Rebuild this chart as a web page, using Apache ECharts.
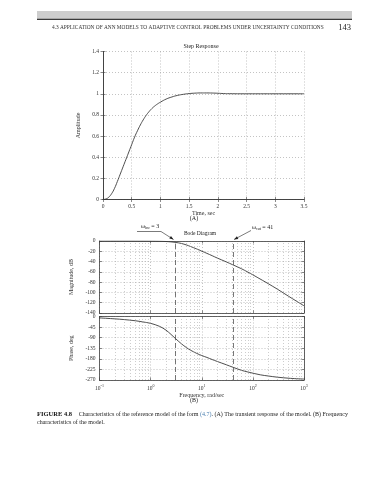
<!DOCTYPE html>
<html><head><meta charset="utf-8">
<script src="https://cdn.jsdelivr.net/npm/echarts@6/dist/echarts.min.js"></script>
<style>html,body{margin:0;padding:0;background:#fff;}#c{width:388px;height:480px;}</style>
</head><body><div id="c"></div>
<script>
// ---- data ----
const stepTime = [0,0.05,0.1,0.15,0.2,0.25,0.3,0.35,0.4,0.45,0.5,0.55,0.6,0.65,0.7,0.75,0.8,0.85,0.9,0.95,1.0,1.1,1.2,1.3,1.4,1.5,1.6,1.7,1.8,1.9,2.0,2.1,2.2,2.4,2.6,2.8,3.0,3.2,3.5];
const stepAmp  = [0,0.005,0.022,0.055,0.105,0.17,0.24,0.31,0.38,0.45,0.52,0.59,0.65,0.705,0.753,0.795,0.83,0.86,0.884,0.904,0.921,0.950,0.970,0.985,0.995,1.002,1.006,1.008,1.008,1.007,1.005,1.002,1.001,1.0,1.0,1.0,1.0,1.0,1.0];
const magFreq  = [0.1,0.2,0.5,1,1.5,2,2.5,3,3.5,4,5,6,8,10,12.6,16,20,30,41,60,80,121,200,300,500,700,1000];
const magDb    = [0,0,-0.05,-0.2,-0.5,-1.0,-1.7,-2.6,-3.6,-4.8,-7.6,-10.6,-15.5,-19.8,-24,-28.6,-33,-40.5,-46.5,-54,-60.5,-70.5,-83,-93.5,-107.5,-116.5,-126];
const phaseFreq = [0.1,0.2,0.3,0.5,0.7,1,1.5,2,2.5,3,4,5,6,8,10,12.6,16,20,30,41,60,80,140,200,300,540,1000];
const phaseDeg  = [-6,-10,-13,-18,-23,-29,-42,-58,-76,-92,-116,-132,-143,-157,-166,-174,-183,-191,-205,-216,-229,-236,-248,-253,-258,-263,-266];
const wBandwidth = 3;
const wCut = 41;
const stepXTicks = {min:0, max:3.5, interval:0.5};
const stepYTicks = {min:0, max:1.4, interval:0.2};
const magTicks = {min:-140, max:0, interval:20};
const phaseTicks = {min:-270, max:0, interval:45};
const freqRange = {min:0.1, max:1000};

// ---- styles ----
const SERIF = "'Liberation Serif','DejaVu Serif',serif";
const AX = '#3c3c3c';
const GRID = '#9a9a9a';
const lblStyle = {fontSize:5.5, fontFamily:SERIF, color:'#333', margin:4};
const dotted = {show:true, lineStyle:{type:[1,2], color:GRID, width:0.6}};

function boxAxis(extra){ // mirrored axis: only line + inside ticks
  return Object.assign({axisLabel:{show:false}, splitLine:{show:false},
    axisLine:{show:true, lineStyle:{color:AX, width:0.8}},
    axisTick:{show:true, inside:true, length:2.5, lineStyle:{color:AX, width:0.6}}}, extra);
}
function mainAxis(extra){
  return Object.assign({axisLine:{show:true, onZero:false, lineStyle:{color:AX, width:0.8}},
    axisTick:{show:true, inside:true, length:2.5, lineStyle:{color:AX, width:0.6}},
    axisLabel:Object.assign({}, lblStyle), splitLine:dotted}, extra);
}
const logLabel = {
  fontSize:5.5, fontFamily:SERIF, color:'#333', margin:4,
  formatter: v => '{b|10}{s|' + Math.round(Math.log10(v)) + '}',
  rich:{ b:{fontSize:5.5, fontFamily:SERIF, color:'#333', lineHeight:8, verticalAlign:'bottom'},
         s:{fontSize:4, fontFamily:SERIF, color:'#333', lineHeight:8, verticalAlign:'top'} }
};

// minor decade grid values (2..9 of each decade)
const minorGrid = [];
for (let d = freqRange.min; d < freqRange.max; d *= 10) for (let k = 2; k <= 9; k++) minorGrid.push(+(d*k).toPrecision(3));
function gridMarks(){
  const data = minorGrid.map(v => ({xAxis:v, lineStyle:{type:[1,2], color:GRID, width:0.5}}));
  data.push({xAxis:wBandwidth, lineStyle:{type:[5,3], color:'#555', width:0.8}});
  data.push({xAxis:wCut, lineStyle:{type:[5,3], color:'#555', width:0.8}});
  return {silent:true, symbol:['none','none'], label:{show:false}, animation:false, data};
}

const grids = [
  {left:103, top:51.5, width:201, height:148},
  {left:99.5, top:241, width:204.5, height:72},
  {left:99.5, top:316.5, width:204.5, height:63.5}
];

const chart = echarts.init(document.getElementById('c'), null, {renderer:'canvas'});
chart.setOption({
  animation:false,
  backgroundColor:'#fff',
  grid: grids,
  xAxis: [
    mainAxis(Object.assign({type:'value', gridIndex:0, position:'bottom'}, stepXTicks, {
      name:'Time, sec', nameLocation:'middle', nameGap:7,
      nameTextStyle:{fontSize:6, fontFamily:SERIF, color:'#333', verticalAlign:'top'}})),
    boxAxis(Object.assign({type:'value', gridIndex:0, position:'top'}, stepXTicks)),
    mainAxis(Object.assign({type:'log', logBase:10, gridIndex:1, position:'bottom', axisLabel:{show:false}}, freqRange)),
    boxAxis(Object.assign({type:'log', logBase:10, gridIndex:1, position:'top'}, freqRange)),
    mainAxis(Object.assign({type:'log', logBase:10, gridIndex:2, position:'bottom', axisLabel:logLabel,
      name:'Frequency, rad/sec', nameLocation:'middle', nameGap:10,
      nameTextStyle:{fontSize:6, fontFamily:SERIF, color:'#333', verticalAlign:'top'}}, freqRange)),
    boxAxis(Object.assign({type:'log', logBase:10, gridIndex:2, position:'top'}, freqRange))
  ],
  yAxis: [
    mainAxis(Object.assign({type:'value', gridIndex:0, position:'left',
      name:'Amplitude', nameLocation:'middle', nameGap:20, nameRotate:90,
      nameTextStyle:{fontSize:6, fontFamily:SERIF, color:'#333'}}, stepYTicks)),
    boxAxis(Object.assign({type:'value', gridIndex:0, position:'right'}, stepYTicks)),
    mainAxis(Object.assign({type:'value', gridIndex:1, position:'left',
      name:'Magnitude, dB', nameLocation:'middle', nameGap:17, nameRotate:90,
      nameTextStyle:{fontSize:6, fontFamily:SERIF, color:'#333'}}, magTicks)),
    boxAxis(Object.assign({type:'value', gridIndex:1, position:'right'}, magTicks)),
    mainAxis(Object.assign({type:'value', gridIndex:2, position:'left',
      name:'Phase, deg', nameLocation:'middle', nameGap:18, nameRotate:90,
      nameTextStyle:{fontSize:6, fontFamily:SERIF, color:'#333'}}, phaseTicks)),
    boxAxis(Object.assign({type:'value', gridIndex:2, position:'right'}, phaseTicks))
  ],
  series: [
    {type:'line', xAxisIndex:0, yAxisIndex:0, showSymbol:false, smooth:true,
     lineStyle:{color:'#3a3a3a', width:0.9}, data: stepTime.map((t,i)=>[t, stepAmp[i]])},
    {type:'line', xAxisIndex:2, yAxisIndex:2, showSymbol:false, smooth:0.3,
     lineStyle:{color:'#3a3a3a', width:0.9}, data: magFreq.map((f,i)=>[f, magDb[i]]), markLine: gridMarks()},
    {type:'line', xAxisIndex:4, yAxisIndex:4, showSymbol:false, smooth:0.3,
     lineStyle:{color:'#3a3a3a', width:0.9}, data: phaseFreq.map((f,i)=>[f, phaseDeg[i]]), markLine: gridMarks()}
  ]
});

// ---- page decorations and annotations ----
const tipBW = chart.convertToPixel({xAxisIndex:2, yAxisIndex:2}, [wBandwidth, 0]);
const tipCut = chart.convertToPixel({xAxisIndex:2, yAxisIndex:2}, [wCut, 0]);
function arrowHead(from, tip){
  const dx = tip[0]-from[0], dy = tip[1]-from[1], L = Math.hypot(dx,dy);
  const ux = dx/L, uy = dy/L, len = 4, hw = 1.5;
  const bx = tip[0]-ux*len, by = tip[1]-uy*len;
  return {type:'polygon', shape:{points:[tip, [bx-uy*hw, by+ux*hw], [bx+uy*hw, by-ux*hw]]}, style:{fill:'#222'}};
}
const t1 = [tipBW[0]-1.5, tipBW[1]-1.5];
const a1 = [[137,231.5],[161,231.5],t1];
const t2 = [tipCut[0]+1, tipCut[1]-1.5];
const a2 = [[251,230.5],t2];
const omegaRich = {w:{fontSize:6, fontFamily:SERIF, fill:'#222'}, s:{fontSize:4, fontFamily:SERIF, fill:'#222', verticalAlign:'bottom', lineHeight:8}};
const txt = (x,y,text,size,extra) => ({type:'text', x, y, style:Object.assign({text, font: size+'px '+SERIF, fill:'#222', align:'center', verticalAlign:'middle'}, extra||{})});

chart.setOption({graphic: [
  {type:'rect', shape:{x:37,y:11,width:315,height:8}, style:{fill:'#cdcdcd'}},
  {type:'line', shape:{x1:37,y1:19.3,x2:352,y2:19.3}, style:{stroke:'#3a3a3a', lineWidth:1.3}},
  txt(52,27.5,'4.3 APPLICATION OF ANN MODELS TO ADAPTIVE CONTROL PROBLEMS UNDER UNCERTAINTY CONDITIONS',5.35,{align:'left', fill:'#333'}),
  txt(351,27.5,'143',8.5,{align:'right', fill:'#222'}),
  txt(201,46,'Step Response',6),
  txt(194,218.5,'(A)',6),
  txt(200,233.5,'Bode Diagram',5.5),
  txt(194,400,'(B)',6),
  {type:'polyline', shape:{points:a1}, style:{stroke:'#222', lineWidth:0.6, fill:null}},
  arrowHead(a1[1], t1),
  {type:'polyline', shape:{points:a2}, style:{stroke:'#222', lineWidth:0.6, fill:null}},
  arrowHead(a2[0], t2),
  {type:'text', x:141, y:226, style:{text:'{w|ω}{s|bw}{w| = 3}', rich:omegaRich, align:'left', verticalAlign:'middle'}},
  {type:'text', x:252, y:227, style:{text:'{w|ω}{s|cut}{w| = 41}', rich:omegaRich, align:'left', verticalAlign:'middle'}},
  {type:'text', x:37, y:414, style:{text:'{b|FIGURE 4.8}  {n|Characteristics of the reference model of the form }{l|(4.7)}{n|. (A) The transient response of the model. (B) Frequency}',
    align:'left', verticalAlign:'middle',
    rich:{b:{fontSize:6.5, fontWeight:'bold', fontFamily:SERIF, fill:'#111'}, n:{fontSize:6, fontFamily:SERIF, fill:'#222'}, l:{fontSize:6, fontFamily:SERIF, fill:'#4a7fb0'}}}},
  txt(37,422.5,'characteristics of the model.',6,{align:'left'})
]});
</script></body></html>
